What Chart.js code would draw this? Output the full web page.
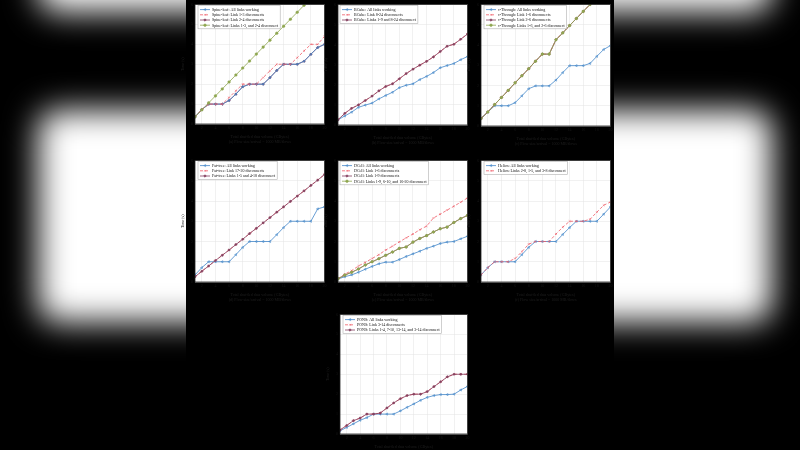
<!DOCTYPE html>
<html>
<head>
<meta charset="utf-8">
<script src="https://cdn.jsdelivr.net/npm/chart.js@4.4.1/dist/chart.umd.min.js"></script>
<style>
  html, body { margin: 0; padding: 0; background: #000; width: 800px; height: 450px; overflow: hidden; position: relative; }
  .side { position: absolute; top: 0; width: 186px; height: 450px; overflow: hidden; background: #000; }
  .blob { position: absolute; background: #fff; filter: blur(16px); border-radius: 20px; }
  canvas { position: absolute; }
</style>
</head>
<body>
<!-- blurred side fill -->
<div class="side" style="left:0">
  <div class="blob" style="left:38px;top:110px;width:270px;height:212px"></div>
  <div class="blob" style="left:38px;top:-60px;width:270px;height:72px"></div>
</div>
<div class="side" style="left:614px">
  <div class="blob" style="left:-100px;top:110px;width:258px;height:212px"></div>
  <div class="blob" style="left:-100px;top:-60px;width:258px;height:72px"></div>
</div>

<canvas id="p1"></canvas>
<canvas id="p2"></canvas>
<canvas id="p3"></canvas>
<canvas id="p4"></canvas>
<canvas id="p5"></canvas>
<canvas id="p6"></canvas>
<canvas id="p7"></canvas>

<script>
// x values and ticks
const xValues = [1, 2, 3, 4, 5, 6, 7, 8, 9, 10, 11, 12, 13, 14, 15, 16, 17, 18, 19, 20];
const xTicks = [2, 4, 6, 8, 10, 12, 14, 16, 18, 20];
const yTicks = [0, 1, 2, 3, 4, 5, 6];

// (a) Spine-leaf
const spineAll    = [0.36, 0.72, 1.0, 1.0, 1.0, 1.18, 1.5, 1.87, 2.0, 2.0, 2.0, 2.33, 2.69, 3.0, 3.0, 3.0, 3.15, 3.5, 3.84, 4.0];
const spineLink13 = [0.36, 0.72, 1.0, 1.0, 1.0, 1.33, 1.67, 2.0, 2.0, 2.0, 2.33, 2.67, 3.0, 3.0, 3.0, 3.33, 3.67, 4.0, 4.0, 4.4];
const spineLink24 = [0.36, 0.72, 1.0, 1.0, 1.0, 1.18, 1.5, 1.87, 2.0, 2.0, 2.0, 2.33, 2.69, 3.0, 3.0, 3.0, 3.15, 3.5, 3.84, 4.0];
const spineBoth   = [0.36, 0.71, 1.06, 1.41, 1.76, 2.11, 2.46, 2.81, 3.16, 3.51, 3.86, 4.21, 4.56, 4.91, 5.26, 5.61, 5.96, 6.31, 6.66, 7.01];

// (b) BCube
const bcubeAll    = [0.26, 0.45, 0.64, 0.88, 0.99, 1.09, 1.3, 1.47, 1.63, 1.86, 1.98, 2.05, 2.26, 2.42, 2.61, 2.85, 2.96, 3.06, 3.25, 3.41];
const bcubeLink   = [0.26, 0.58, 0.83, 1.0, 1.22, 1.44, 1.7, 1.92, 2.05, 2.3, 2.56, 2.78, 2.98, 3.17, 3.39, 3.66, 3.92, 4.02, 4.27, 4.53];
const bcubeBoth   = [0.26, 0.58, 0.83, 1.0, 1.22, 1.44, 1.7, 1.92, 2.05, 2.3, 2.56, 2.78, 2.98, 3.17, 3.39, 3.66, 3.92, 4.02, 4.27, 4.53];

// (c) c-Through
const cthAll      = [0.37, 0.69, 1.0, 1.0, 1.0, 1.15, 1.49, 1.84, 1.98, 1.98, 1.98, 2.27, 2.64, 2.98, 2.98, 2.98, 3.09, 3.44, 3.78, 3.97];
const cthLink16   = [0.37, 0.69, 1.06, 1.41, 1.76, 2.13, 2.48, 2.83, 3.2, 3.55, 3.55, 4.26, 4.6, 4.96, 5.31, 5.66, 6.0, 6.35, 6.7, 7.05];
const cthLink26   = [0.37, 0.69, 1.06, 1.41, 1.76, 2.13, 2.48, 2.83, 3.2, 3.55, 3.55, 4.26, 4.6, 4.96, 5.31, 5.66, 6.0, 6.35, 6.7, 7.05];
const cthBoth     = [0.37, 0.69, 1.06, 1.41, 1.76, 2.13, 2.48, 2.83, 3.2, 3.55, 3.55, 4.26, 4.6, 4.96, 5.31, 5.66, 6.0, 6.35, 6.7, 7.05];

// (d) Fat-tree
const fatAll      = [0.35, 0.71, 1.0, 1.0, 1.0, 1.0, 1.35, 1.71, 2.0, 2.0, 2.0, 2.0, 2.34, 2.69, 3.0, 3.0, 3.0, 3.0, 3.61, 3.71];
const fatLink     = [0.26, 0.53, 0.79, 1.06, 1.32, 1.58, 1.85, 2.11, 2.39, 2.65, 2.92, 3.18, 3.45, 3.71, 3.98, 4.24, 4.5, 4.77, 5.03, 5.31];
const fatBoth     = [0.26, 0.53, 0.79, 1.06, 1.32, 1.58, 1.85, 2.11, 2.39, 2.65, 2.92, 3.18, 3.45, 3.71, 3.98, 4.24, 4.5, 4.77, 5.03, 5.31];

// (e) DCell
const dcellAll    = [0.15, 0.26, 0.35, 0.48, 0.63, 0.77, 0.9, 0.98, 0.98, 1.11, 1.26, 1.39, 1.52, 1.66, 1.77, 1.9, 1.97, 2.0, 2.13, 2.26];
const dcellLink16 = [0.16, 0.39, 0.56, 0.79, 0.97, 1.16, 1.35, 1.58, 1.77, 1.98, 2.18, 2.37, 2.58, 2.76, 3.16, 3.35, 3.55, 3.74, 3.94, 4.15];
const dcellLink19 = [0.16, 0.34, 0.48, 0.64, 0.84, 1.0, 1.15, 1.32, 1.48, 1.66, 1.73, 1.97, 2.15, 2.29, 2.47, 2.63, 2.71, 2.94, 3.13, 3.29];
const dcellMulti  = [0.16, 0.34, 0.48, 0.64, 0.84, 1.0, 1.15, 1.32, 1.48, 1.66, 1.73, 1.97, 2.15, 2.29, 2.47, 2.63, 2.71, 2.94, 3.13, 3.29];

// (f) Helios
const heliosAll   = [0.35, 0.71, 1.0, 1.0, 1.0, 1.0, 1.35, 1.71, 2.0, 2.0, 2.0, 2.0, 2.35, 2.69, 3.0, 3.0, 3.0, 3.0, 3.35, 3.71];
const heliosMulti = [0.35, 0.71, 1.0, 1.0, 1.0, 1.16, 1.5, 1.87, 2.0, 2.0, 2.0, 2.37, 2.71, 3.0, 3.0, 3.0, 3.1, 3.45, 3.79, 3.95];

// (g) PONS
const ponsAll     = [0.16, 0.33, 0.51, 0.69, 0.82, 1.0, 1.0, 1.0, 1.0, 1.16, 1.34, 1.51, 1.69, 1.84, 1.93, 1.98, 1.98, 2.0, 2.21, 2.39];
const ponsLink    = [0.2, 0.43, 0.67, 0.8, 1.0, 1.0, 1.05, 1.31, 1.56, 1.77, 1.93, 2.0, 2.0, 2.13, 2.38, 2.62, 2.87, 3.0, 3.0, 3.0];
const ponsMulti   = [0.2, 0.43, 0.67, 0.8, 1.0, 1.0, 1.05, 1.31, 1.56, 1.77, 1.93, 2.0, 2.0, 2.13, 2.38, 2.62, 2.87, 3.0, 3.0, 3.0];

const xTitle = 'Total shuffled data volume (GBytes)';
const fontFamily = '"Liberation Serif", "DejaVu Serif", serif';

// line styles
const styles = {
    all:  { color: '#4287c9', dash: [],     point: 'triangle', rot: -90, fill: 'rgba(66,135,201,0.3)' },
    one:  { color: '#ef5b66', dash: [3, 2], point: 'crossRot', rot: 0,   fill: '#ef5b66' },
    two:  { color: '#84405f', dash: [],     point: 'rectRot',  rot: 0,   fill: '#84405f' },
    both: { color: '#8fa650', dash: [],     point: 'circle',   rot: 0,   fill: '#8fa650' },
};

// white plot area + frame
const plotBg = {
    id: 'plotBg',
    beforeDraw(chart) {
        const { ctx, chartArea: a } = chart;
        ctx.save();
        ctx.fillStyle = '#fff';
        ctx.fillRect(a.left, a.top, a.width, a.height);
        ctx.restore();
    },
    afterDraw(chart) {
        const { ctx, chartArea: a } = chart;
        ctx.save();
        ctx.strokeStyle = '#222';
        ctx.lineWidth = 0.8;
        ctx.strokeRect(a.left, a.top, a.width, a.height);
        ctx.restore();
    }
};

// matplotlib-like legend box inside the plot
const boxLegend = {
    id: 'boxLegend',
    afterDraw(chart, args, opts) {
        const { ctx, chartArea: a } = chart;
        const items = chart.data.datasets;
        ctx.save();
        ctx.font = '4px ' + fontFamily;
        let maxW = 0;
        items.forEach(d => { maxW = Math.max(maxW, ctx.measureText(d.label).width); });
        const rowH = 5.2;
        const x0 = a.left + (opts.dx || 3), y0 = a.top + 1;
        const w = maxW + 16, h = items.length * rowH + 2.5;
        ctx.fillStyle = 'rgba(255,255,255,0.95)';
        ctx.strokeStyle = '#b0b0b0';
        ctx.lineWidth = 0.6;
        ctx.fillRect(x0, y0, w, h);
        ctx.strokeRect(x0, y0, w, h);
        items.forEach((d, i) => {
            const cy = y0 + 1.5 + rowH * (i + 0.5);
            ctx.strokeStyle = d.borderColor;
            ctx.lineWidth = 0.8;
            ctx.setLineDash(d.borderDash || []);
            ctx.beginPath();
            ctx.moveTo(x0 + 2, cy);
            ctx.lineTo(x0 + 12, cy);
            ctx.stroke();
            ctx.setLineDash([]);
            if (Chart.helpers && Chart.helpers.drawPoint) {
                ctx.fillStyle = d.pointBackgroundColor;
                ctx.lineWidth = 0.5;
                Chart.helpers.drawPoint(ctx, { pointStyle: d.pointStyle, rotation: d.pointRotation, radius: 1.3, borderWidth: 0.5 }, x0 + 7, cy);
            }
            ctx.fillStyle = '#111';
            ctx.textBaseline = 'middle';
            ctx.fillText(d.label, x0 + 14, cy + 0.3);
        });
        ctx.restore();
    }
};

// order: higher = drawn earlier (underneath)
function makeDataset(label, vals, s, order) {
    return {
        label: label,
        data: xValues.map((x, i) => ({ x: x, y: vals[i] })),
        borderColor: s.color,
        backgroundColor: s.fill,
        borderWidth: 0.8,
        borderDash: s.dash,
        pointStyle: s.point,
        pointRotation: s.rot,
        pointRadius: 1.3,
        pointBorderWidth: 0.5,
        pointBackgroundColor: s.fill,
        pointBorderColor: s.color,
        order: order,
        tension: 0,
    };
}

// box = [plotLeft, plotTop, plotWidth, plotHeight]
function makePanel(id, box, series, subTitle, legendDx) {
    const padL = 14, padT = Math.min(box[1], 2), padR = 4, padB = 20;
    const cv = document.getElementById(id);
    cv.width = box[2] + padL + padR;
    cv.height = box[3] + padT + padB;
    cv.style.left = (box[0] - padL) + 'px';
    cv.style.top = (box[1] - padT) + 'px';

    new Chart(cv.getContext('2d'), {
        type: 'line',
        data: { datasets: series.map((s, i) => makeDataset(s[0], s[1], styles[s[2]], s[3] !== undefined ? s[3] : series.length - i)) },
        options: {
            responsive: false,
            animation: false,
            devicePixelRatio: 1,
            layout: { padding: { left: 0, top: padT, right: padR, bottom: 0 } },
            plugins: {
                legend: { display: false },
                tooltip: { enabled: false },
                boxLegend: { dx: legendDx },
            },
            scales: {
                x: {
                    type: 'linear',
                    min: 1,
                    max: 20,
                    afterBuildTicks: sc => { sc.ticks = xTicks.map(v => ({ value: v })); },
                    afterFit: sc => { sc.height = padB; },
                    grid: { color: '#e3e3e3', lineWidth: 0.5, drawTicks: false },
                    border: { display: false },
                    ticks: { color: '#151515', font: { size: 4, family: fontFamily }, padding: 2, maxRotation: 0 },
                    title: { display: true, text: [xTitle, subTitle], color: '#1e1e1e', font: { size: 4, family: fontFamily, lineHeight: 1.1 }, padding: { top: 1, bottom: 0 } },
                },
                y: {
                    min: 0,
                    max: 6,
                    afterBuildTicks: sc => { sc.ticks = yTicks.map(v => ({ value: v })); },
                    afterFit: sc => { sc.width = padL; },
                    grid: { color: '#e3e3e3', lineWidth: 0.5, drawTicks: false },
                    border: { display: false },
                    ticks: { color: '#151515', font: { size: 4, family: fontFamily }, padding: 2 },
                    title: { display: true, text: 'Time (s)', color: '#1e1e1e', font: { size: 4, family: fontFamily }, padding: 0 },
                },
            },
        },
        plugins: [plotBg, boxLegend],
    });
}

makePanel('p1', [195, 2, 130, 122], [
    ['Spine-leaf: All links working', spineAll, 'all', 3],
    ['Spine-leaf: Link 1-3 disconnects', spineLink13, 'one', 2],
    ['Spine-leaf: Link 2-4 disconnects', spineLink24, 'two', 4],
    ['Spine-leaf: Links 1-3, and 2-4 disconnect', spineBoth, 'both', 1],
], '(a) Flow size/arrival = 1000 MB/flows', 3);

makePanel('p2', [338, 2, 130, 123], [
    ['BCube: All links working', bcubeAll, 'all'],
    ['BCube: Link 8-24 disconnects', bcubeLink, 'one'],
    ['BCube: Links 1-9 and 8-24 disconnect', bcubeBoth, 'two'],
], '(b) Flow size/arrival = 1000 MB/flows', 2);

makePanel('p3', [481, 2, 130, 124], [
    ['c-Through: All links working', cthAll, 'all'],
    ['c-Through: Link 1-6 disconnects', cthLink16, 'one'],
    ['c-Through: Link 2-6 disconnects', cthLink26, 'two'],
    ['c-Through: Links 1-6, and 2-6 disconnect', cthBoth, 'both'],
], '(c) Flow size/arrival = 1000 MB/flows', 3);

makePanel('p4', [195, 158, 130, 124], [
    ['Fat-tree: All links working', fatAll, 'all'],
    ['Fat-tree: Link 17-20 disconnects', fatLink, 'one'],
    ['Fat-tree: Links 1-5 and 4-18 disconnect', fatBoth, 'two'],
], '(d) Flow size/arrival = 1000 MB/flows', 3);

makePanel('p5', [338, 158, 130, 124], [
    ['DCell: All links working', dcellAll, 'all'],
    ['DCell: Link 1-6 disconnects', dcellLink16, 'one'],
    ['DCell: Link 1-9 disconnects', dcellLink19, 'two'],
    ['DCell: Links 1-9, 6-10, and 16-20 disconnect', dcellMulti, 'both'],
], '(e) Flow size/arrival = 1000 MB/flows', 2);

makePanel('p6', [481, 158, 130, 124], [
    ['Helios: All links working', heliosAll, 'all'],
    ['Helios: Links 2-8, 1-5, and 3-8 disconnect', heliosMulti, 'one'],
], '(f) Flow size/arrival = 1000 MB/flows', 3);

makePanel('p7', [340, 312, 128, 122], [
    ['PONS: All links working', ponsAll, 'all'],
    ['PONS: Link 3-14 disconnects', ponsLink, 'one'],
    ['PONS: Links 1-4, 7-10, 13-14, and 3-14 disconnect', ponsMulti, 'two'],
], '(g) Flow size/arrival = 1000 MB/flows', 3);
</script>
</body>
</html>
